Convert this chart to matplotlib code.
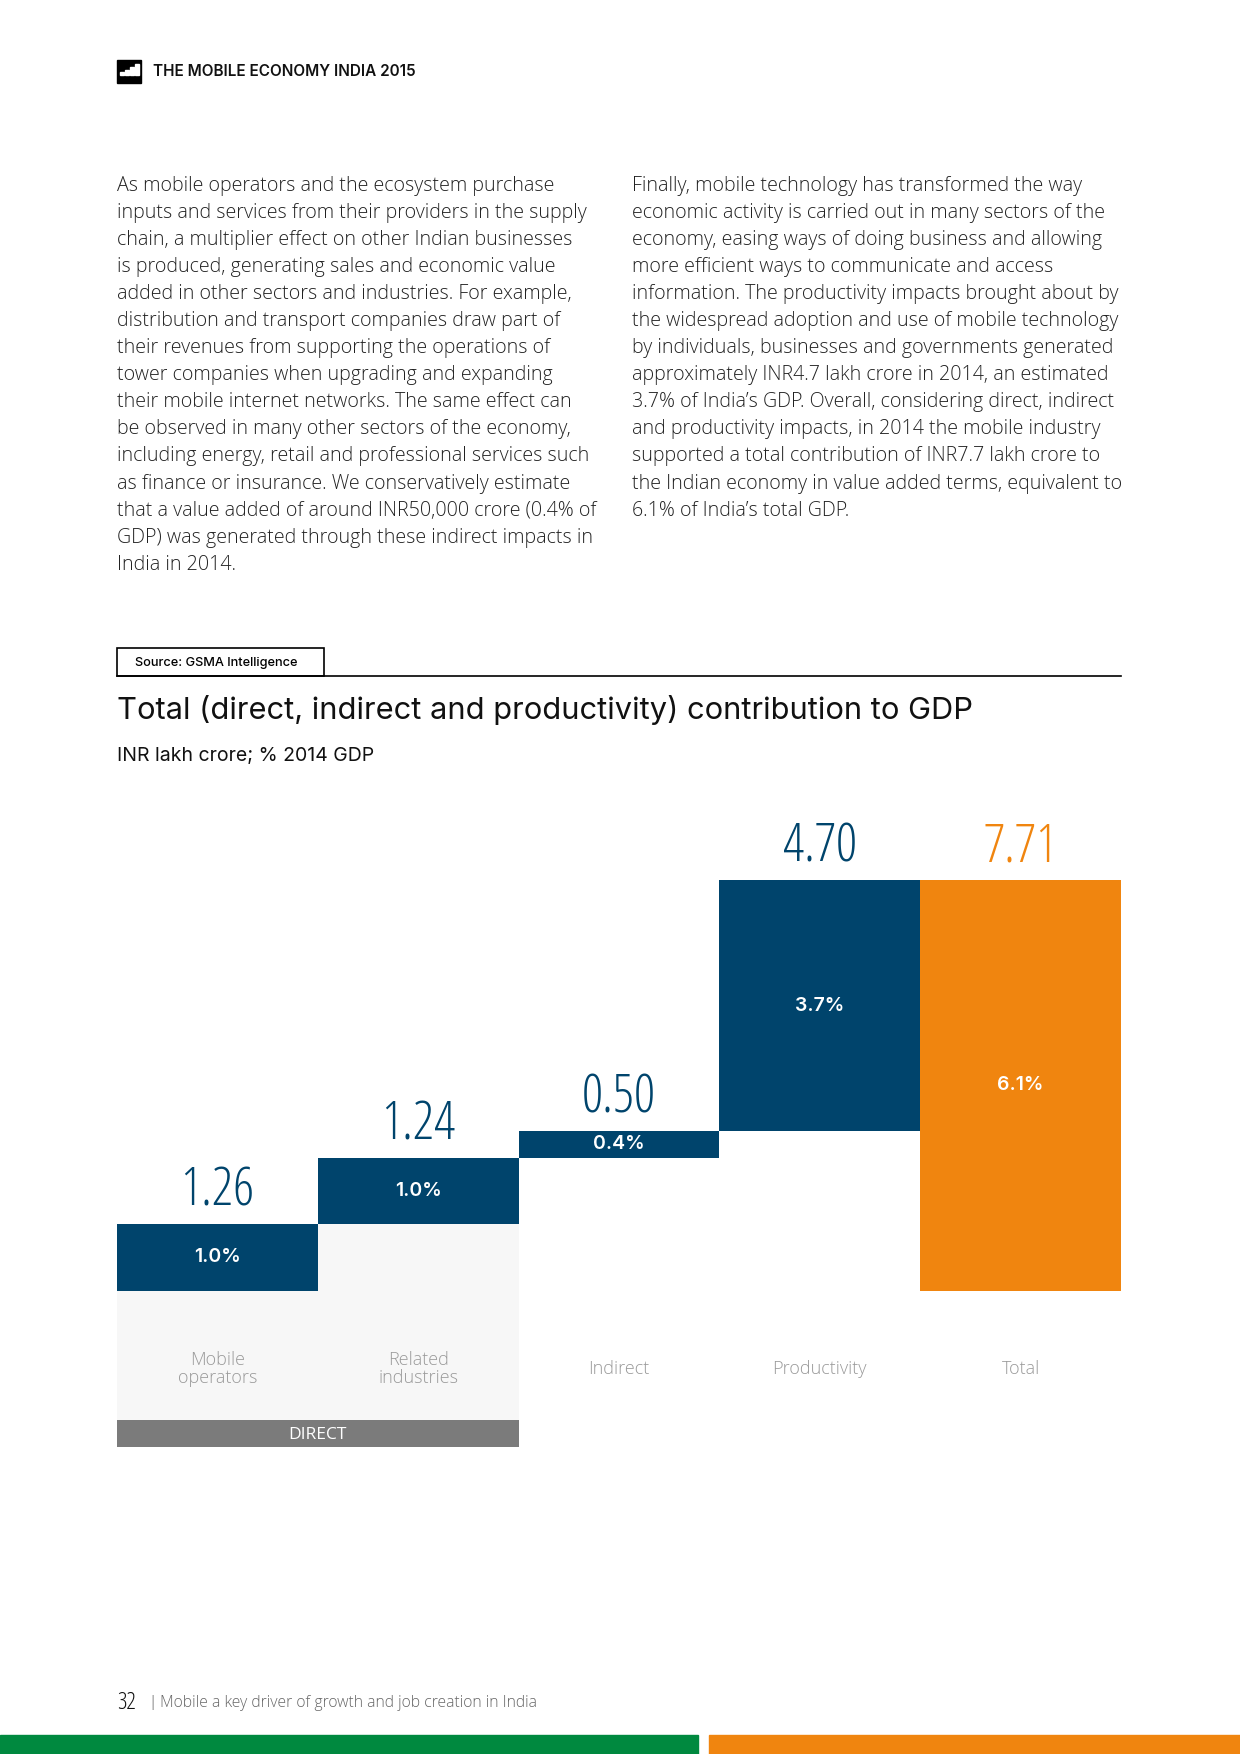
import numpy as np
import matplotlib.pyplot as plt
from matplotlib.patches import Rectangle

# Данные графика
categories = ['Mobile\noperators', 'Related\nindustries', 'Indirect', 'Productivity', 'Total']
values = [1.26, 1.24, 0.50, 4.70, 7.71]
value_labels = ['1.26', '1.24', '0.50', '4.70', '7.71']
pct_labels = ['1.0%', '1.0%', '0.4%', '3.7%', '6.1%']
is_total = [False, False, False, False, True]

left_lines = [
    "As mobile operators and the ecosystem purchase",
    "inputs and services from their providers in the supply",
    "chain, a multiplier effect on other Indian businesses",
    "is produced, generating sales and economic value",
    "added in other sectors and industries. For example,",
    "distribution and transport companies draw part of",
    "their revenues from supporting the operations of",
    "tower companies when upgrading and expanding",
    "their mobile internet networks. The same effect can",
    "be observed in many other sectors of the economy,",
    "including energy, retail and professional services such",
    "as finance or insurance. We conservatively estimate",
    "that a value added of around INR50,000 crore (0.4% of",
    "GDP) was generated through these indirect impacts in",
    "India in 2014.",
]
right_lines = [
    "Finally, mobile technology has transformed the way",
    "economic activity is carried out in many sectors of the",
    "economy, easing ways of doing business and allowing",
    "more efficient ways to communicate and access",
    "information. The productivity impacts brought about by",
    "the widespread adoption and use of mobile technology",
    "by individuals, businesses and governments generated",
    "approximately INR4.7 lakh crore in 2014, an estimated",
    "3.7% of India\u2019s GDP. Overall, considering direct, indirect",
    "and productivity impacts, in 2014 the mobile industry",
    "supported a total contribution of INR7.7 lakh crore to",
    "the Indian economy in value added terms, equivalent to",
    "6.1% of India\u2019s total GDP.",
]

BLUE = '#00446c'
ORANGE = '#f0850f'
GREEN = '#00893f'
GREY_TXT = '#9a9a9a'

body_font = ['Open Sans', 'DejaVu Sans']
head_font = ['Inter', 'DejaVu Sans']
narrow = dict(family=['Open Sans', 'DejaVu Sans'], stretch='condensed', fontweight='light')

fig = plt.figure(figsize=(12.4, 17.54), dpi=100)

# Страница целиком в пикселях
page = fig.add_axes([0, 0, 1, 1])
page.set_xlim(0, 1240)
page.set_ylim(1754, 0)
page.axis('off')

# Шапка
page.add_patch(Rectangle((117, 60), 24, 23, color='black'))
for i, h in enumerate([3, 5, 8, 11]):
    page.add_patch(Rectangle((120 + i * 5, 75 - h), 3.5, h, color='white'))
page.text(153, 71, 'THE MOBILE ECONOMY INDIA 2015', fontsize=11, fontweight='semibold',
          family=head_font, va='center', color='#111111')

# Текст колонок
for i, line in enumerate(left_lines):
    page.text(117, 186 + i * 27.05, line, fontsize=14.1, family=body_font,
              fontweight='light', va='center', color='#222222')
for i, line in enumerate(right_lines):
    page.text(632, 186 + i * 27.05, line, fontsize=14.1, family=body_font,
              fontweight='light', va='center', color='#222222')

# Источник и заголовок
page.add_patch(Rectangle((117, 648), 207, 28, fill=False, lw=1.2, edgecolor='black'))
page.plot([117, 1121], [676, 676], color='black', lw=1.2)
page.text(135, 663, 'Source: GSMA Intelligence', fontsize=9.2, fontweight='medium',
          family=head_font, va='center')
page.text(117, 710, 'Total (direct, indirect and productivity) contribution to GDP',
          fontsize=22.2, family=head_font, va='center', color='#111111')
page.text(117, 756, 'INR lakh crore; % 2014 GDP', fontsize=14, family=head_font,
          va='center', color='#111111')

# Подвал
page.text(117, 1703, '32', fontsize=17, va='center', color='#111111', **narrow)
page.text(148, 1703, '|', fontsize=11, family=body_font, va='center', color='#888888')
page.text(160, 1703, 'Mobile a key driver of growth and job creation in India', fontsize=11.3,
          family=body_font, fontweight='light', va='center', color='#666666')
page.add_patch(Rectangle((0, 1735), 698, 19, color=GREEN))
page.add_patch(Rectangle((709, 1735), 531, 19, color=ORANGE))

# График-водопад
ax = fig.add_axes([117 / 1240, (1754 - 1451) / 1754, 1004 / 1240, 640 / 1754])
ax.set_xlim(-0.5, 4.5)
ax.set_ylim(-3, 9)
ax.axis('off')

x = np.arange(len(values))
cum = np.cumsum([0] + values[:-1])
bottoms = [0 if t else b for t, b in zip(is_total, cum)]
colors = [ORANGE if t else BLUE for t in is_total]

# фон для блока DIRECT
ax.add_patch(Rectangle((-0.5, -2.42), 2, 2.42 + values[0], color='#f7f7f7', zorder=1, lw=0))
ax.add_patch(Rectangle((-0.5, -2.93), 2, 0.51, color='#7b7b7b', zorder=2, lw=0))
ax.text(0.5, -2.7, 'DIRECT', color='white', fontsize=12.5, family=body_font,
        ha='center', va='center', zorder=3)

ax.bar(x, values, bottom=bottoms, width=1.0, color=colors, zorder=3, linewidth=0)

for xi, v, b, vl, pl, c in zip(x, values, bottoms, value_labels, pct_labels, colors):
    ax.text(xi, b + v / 2, pl, color='white', fontsize=14, fontweight='semibold',
            family=head_font, ha='center', va='center', zorder=4)
    ax.text(xi, b + v + 0.1, vl, color=c, fontsize=38, ha='center', va='bottom',
            zorder=4, clip_on=False, **narrow)

for xi, cat in zip(x, categories):
    ax.text(xi, -1.46, cat, color=GREY_TXT, fontsize=13, family=body_font,
            fontweight='light', ha='center', va='center', linespacing=1.05, zorder=4)

fig.savefig('out.png', dpi=100)
